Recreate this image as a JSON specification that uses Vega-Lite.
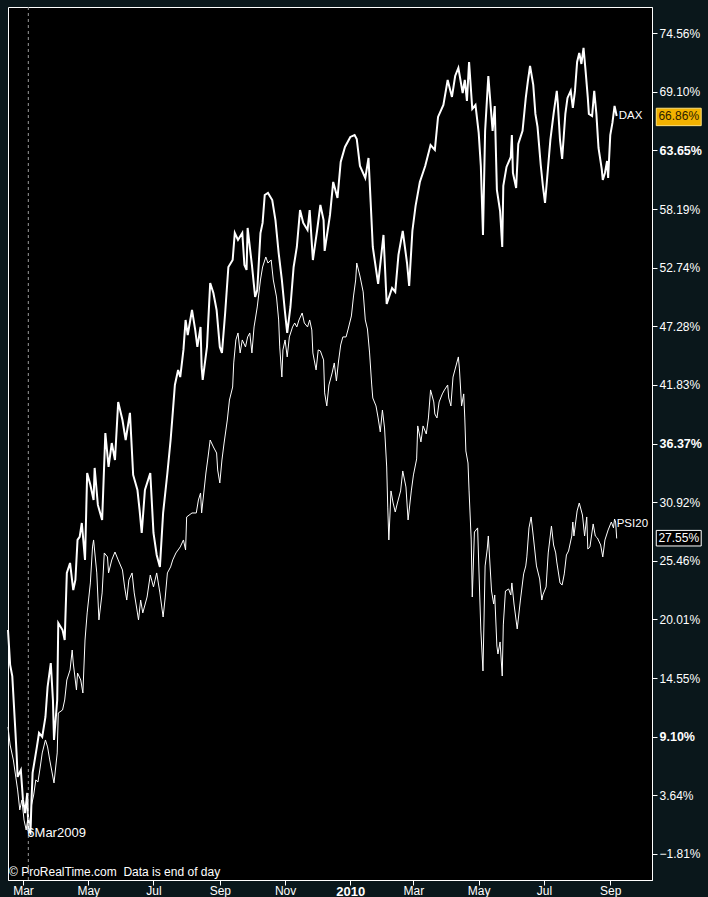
{
"$schema":"https://vega.github.io/schema/vega-lite/v6.json",
"width":644,"height":873,
"autosize":{"type":"none"},
"padding":{"left":8,"top":7,"right":56,"bottom":17},
"background":"#0a171b",
"config":{"view":{"fill":"#000000","stroke":"#ffffff","strokeWidth":1},"font":"Liberation Sans",
"axis":{"grid":false,"domainColor":"#ffffff","tickColor":"#ffffff","labelColor":"#ffffff","labelFont":"Liberation Sans","labelFontSize":12,"tickSize":5}},
"data":{"values":[{}]},
"datasets":{
"dax":[{"date":"2009-02-15","pct":19.03},{"date":"2009-02-17","pct":15.78},{"date":"2009-02-19","pct":14.75},{"date":"2009-02-22","pct":9.45},{"date":"2009-02-23","pct":7.59},{"date":"2009-02-24","pct":5.36},{"date":"2009-02-27","pct":6.0},{"date":"2009-03-01","pct":3.22},{"date":"2009-03-03","pct":2.0},{"date":"2009-03-05","pct":3.87},{"date":"2009-03-06","pct":0.42},{"date":"2009-03-08","pct":0.14},{"date":"2009-03-09","pct":3.22},{"date":"2009-03-10","pct":5.73},{"date":"2009-03-14","pct":8.15},{"date":"2009-03-16","pct":9.45},{"date":"2009-03-19","pct":9.08},{"date":"2009-03-22","pct":10.94},{"date":"2009-03-24","pct":13.73},{"date":"2009-03-27","pct":15.96},{"date":"2009-03-29","pct":12.52},{"date":"2009-03-30","pct":8.8},{"date":"2009-04-02","pct":12.52},{"date":"2009-04-03","pct":19.69},{"date":"2009-04-07","pct":19.03},{"date":"2009-04-09","pct":18.1},{"date":"2009-04-11","pct":24.34},{"date":"2009-04-14","pct":25.27},{"date":"2009-04-17","pct":22.75},{"date":"2009-04-19","pct":23.69},{"date":"2009-04-21","pct":27.41},{"date":"2009-04-23","pct":27.69},{"date":"2009-04-25","pct":28.99},{"date":"2009-04-28","pct":25.55},{"date":"2009-04-30","pct":33.64},{"date":"2009-05-03","pct":32.53},{"date":"2009-05-06","pct":31.13},{"date":"2009-05-07","pct":34.11},{"date":"2009-05-10","pct":30.67},{"date":"2009-05-14","pct":29.27},{"date":"2009-05-17","pct":37.36},{"date":"2009-05-20","pct":34.2},{"date":"2009-05-23","pct":36.43},{"date":"2009-05-26","pct":34.85},{"date":"2009-05-29","pct":40.25},{"date":"2009-06-02","pct":38.57},{"date":"2009-06-05","pct":36.71},{"date":"2009-06-09","pct":39.23},{"date":"2009-06-12","pct":33.46},{"date":"2009-06-16","pct":32.06},{"date":"2009-06-18","pct":30.2},{"date":"2009-06-20","pct":28.06},{"date":"2009-06-23","pct":32.06},{"date":"2009-06-28","pct":33.64},{"date":"2009-07-01","pct":28.06},{"date":"2009-07-04","pct":26.01},{"date":"2009-07-07","pct":24.9},{"date":"2009-07-10","pct":29.92},{"date":"2009-07-14","pct":33.64},{"date":"2009-07-17","pct":36.71},{"date":"2009-07-19","pct":39.23},{"date":"2009-07-21","pct":41.83},{"date":"2009-07-24","pct":43.23},{"date":"2009-07-26","pct":42.57},{"date":"2009-07-29","pct":45.09},{"date":"2009-07-31","pct":47.88},{"date":"2009-08-02","pct":46.48},{"date":"2009-08-06","pct":48.81},{"date":"2009-08-09","pct":46.95},{"date":"2009-08-11","pct":45.37},{"date":"2009-08-14","pct":47.23},{"date":"2009-08-15","pct":43.51},{"date":"2009-08-16","pct":42.3},{"date":"2009-08-20","pct":45.37},{"date":"2009-08-23","pct":51.32},{"date":"2009-08-26","pct":50.39},{"date":"2009-08-29","pct":48.81},{"date":"2009-09-01","pct":45.37},{"date":"2009-09-03","pct":44.81},{"date":"2009-09-06","pct":48.53},{"date":"2009-09-09","pct":52.81},{"date":"2009-09-13","pct":53.46},{"date":"2009-09-15","pct":55.97},{"date":"2009-09-18","pct":55.32},{"date":"2009-09-22","pct":55.97},{"date":"2009-09-24","pct":53.0},{"date":"2009-09-26","pct":52.53},{"date":"2009-09-27","pct":56.44},{"date":"2009-10-01","pct":53.0},{"date":"2009-10-04","pct":50.02},{"date":"2009-10-06","pct":50.67},{"date":"2009-10-09","pct":55.97},{"date":"2009-10-11","pct":56.91},{"date":"2009-10-13","pct":59.51},{"date":"2009-10-16","pct":59.7},{"date":"2009-10-20","pct":59.04},{"date":"2009-10-23","pct":57.18},{"date":"2009-10-26","pct":54.11},{"date":"2009-10-29","pct":51.6},{"date":"2009-11-01","pct":48.53},{"date":"2009-11-03","pct":46.67},{"date":"2009-11-06","pct":49.09},{"date":"2009-11-09","pct":52.81},{"date":"2009-11-12","pct":54.67},{"date":"2009-11-15","pct":58.11},{"date":"2009-11-18","pct":56.91},{"date":"2009-11-22","pct":56.25},{"date":"2009-11-24","pct":58.11},{"date":"2009-11-27","pct":53.46},{"date":"2009-12-01","pct":56.25},{"date":"2009-12-04","pct":58.58},{"date":"2009-12-07","pct":57.18},{"date":"2009-12-08","pct":54.3},{"date":"2009-12-13","pct":57.65},{"date":"2009-12-16","pct":60.72},{"date":"2009-12-20","pct":59.23},{"date":"2009-12-23","pct":62.58},{"date":"2009-12-27","pct":63.98},{"date":"2010-01-01","pct":64.91},{"date":"2010-01-05","pct":65.09},{"date":"2010-01-07","pct":64.72},{"date":"2010-01-10","pct":62.21},{"date":"2010-01-15","pct":61.09},{"date":"2010-01-18","pct":62.95},{"date":"2010-01-20","pct":58.86},{"date":"2010-01-22","pct":54.67},{"date":"2010-01-27","pct":51.23},{"date":"2010-02-01","pct":55.79},{"date":"2010-02-04","pct":49.37},{"date":"2010-02-09","pct":50.86},{"date":"2010-02-12","pct":50.49},{"date":"2010-02-15","pct":53.93},{"date":"2010-02-19","pct":56.16},{"date":"2010-02-23","pct":53.18},{"date":"2010-02-25","pct":51.04},{"date":"2010-02-28","pct":56.16},{"date":"2010-03-03","pct":58.49},{"date":"2010-03-07","pct":60.72},{"date":"2010-03-12","pct":62.21},{"date":"2010-03-17","pct":64.16},{"date":"2010-03-21","pct":63.7},{"date":"2010-03-24","pct":66.77},{"date":"2010-03-29","pct":67.88},{"date":"2010-04-02","pct":70.21},{"date":"2010-04-06","pct":68.63},{"date":"2010-04-09","pct":70.58},{"date":"2010-04-12","pct":71.33},{"date":"2010-04-16","pct":69.0},{"date":"2010-04-18","pct":70.21},{"date":"2010-04-20","pct":68.26},{"date":"2010-04-22","pct":71.88},{"date":"2010-04-25","pct":67.51},{"date":"2010-04-28","pct":67.88},{"date":"2010-05-01","pct":65.28},{"date":"2010-05-03","pct":62.21},{"date":"2010-05-05","pct":55.79},{"date":"2010-05-07","pct":65.47},{"date":"2010-05-10","pct":70.58},{"date":"2010-05-14","pct":65.47},{"date":"2010-05-16","pct":67.79},{"date":"2010-05-18","pct":59.98},{"date":"2010-05-21","pct":58.02},{"date":"2010-05-23","pct":54.67},{"date":"2010-05-24","pct":60.35},{"date":"2010-05-27","pct":62.12},{"date":"2010-05-31","pct":63.05},{"date":"2010-06-01","pct":65.09},{"date":"2010-06-02","pct":61.56},{"date":"2010-06-05","pct":60.16},{"date":"2010-06-07","pct":64.26},{"date":"2010-06-11","pct":65.47},{"date":"2010-06-14","pct":68.54},{"date":"2010-06-16","pct":70.12},{"date":"2010-06-18","pct":71.51},{"date":"2010-06-21","pct":69.75},{"date":"2010-06-23","pct":67.05},{"date":"2010-06-25","pct":65.84},{"date":"2010-06-28","pct":62.3},{"date":"2010-06-30","pct":60.35},{"date":"2010-07-02","pct":58.77},{"date":"2010-07-04","pct":61.09},{"date":"2010-07-07","pct":64.63},{"date":"2010-07-10","pct":67.05},{"date":"2010-07-13","pct":69.19},{"date":"2010-07-14","pct":67.98},{"date":"2010-07-16","pct":64.63},{"date":"2010-07-18","pct":62.86},{"date":"2010-07-21","pct":67.05},{"date":"2010-07-23","pct":68.54},{"date":"2010-07-26","pct":69.19},{"date":"2010-07-28","pct":67.61},{"date":"2010-07-30","pct":69.19},{"date":"2010-08-01","pct":71.88},{"date":"2010-08-03","pct":72.72},{"date":"2010-08-05","pct":71.7},{"date":"2010-08-07","pct":73.19},{"date":"2010-08-09","pct":70.96},{"date":"2010-08-11","pct":68.54},{"date":"2010-08-12","pct":67.05},{"date":"2010-08-15","pct":66.86},{"date":"2010-08-17","pct":69.19},{"date":"2010-08-19","pct":67.05},{"date":"2010-08-21","pct":63.88},{"date":"2010-08-24","pct":61.93},{"date":"2010-08-25","pct":60.91},{"date":"2010-08-27","pct":61.56},{"date":"2010-08-29","pct":62.67},{"date":"2010-08-30","pct":61.09},{"date":"2010-09-01","pct":65.09},{"date":"2010-09-03","pct":66.21},{"date":"2010-09-05","pct":67.79},{"date":"2010-09-07","pct":66.86}],
"psi":[{"date":"2009-02-15","pct":10.01},{"date":"2009-02-17","pct":8.33},{"date":"2009-02-20","pct":6.94},{"date":"2009-02-22","pct":5.54},{"date":"2009-02-24","pct":4.15},{"date":"2009-02-26","pct":2.29},{"date":"2009-02-28","pct":3.22},{"date":"2009-03-02","pct":1.35},{"date":"2009-03-04","pct":0.42},{"date":"2009-03-06","pct":1.82},{"date":"2009-03-08","pct":0.61},{"date":"2009-03-09","pct":2.75},{"date":"2009-03-11","pct":3.68},{"date":"2009-03-13","pct":5.08},{"date":"2009-03-15","pct":4.89},{"date":"2009-03-17","pct":6.19},{"date":"2009-03-19","pct":7.59},{"date":"2009-03-22","pct":8.8},{"date":"2009-03-24","pct":8.15},{"date":"2009-03-26","pct":6.94},{"date":"2009-03-30","pct":4.8},{"date":"2009-04-02","pct":7.59},{"date":"2009-04-03","pct":11.31},{"date":"2009-04-07","pct":11.59},{"date":"2009-04-09","pct":12.52},{"date":"2009-04-11","pct":14.38},{"date":"2009-04-14","pct":15.31},{"date":"2009-04-16","pct":17.17},{"date":"2009-04-17","pct":15.96},{"date":"2009-04-20","pct":13.45},{"date":"2009-04-21","pct":15.03},{"date":"2009-04-24","pct":14.38},{"date":"2009-04-26","pct":13.17},{"date":"2009-04-28","pct":18.1},{"date":"2009-04-30","pct":20.62},{"date":"2009-05-03","pct":23.41},{"date":"2009-05-05","pct":26.76},{"date":"2009-05-06","pct":27.41},{"date":"2009-05-09","pct":24.34},{"date":"2009-05-11","pct":19.97},{"date":"2009-05-14","pct":22.48},{"date":"2009-05-16","pct":26.2},{"date":"2009-05-19","pct":25.83},{"date":"2009-05-20","pct":24.34},{"date":"2009-05-23","pct":25.55},{"date":"2009-05-26","pct":26.29},{"date":"2009-05-29","pct":25.55},{"date":"2009-06-02","pct":24.62},{"date":"2009-06-04","pct":23.04},{"date":"2009-06-06","pct":21.82},{"date":"2009-06-08","pct":23.69},{"date":"2009-06-11","pct":24.34},{"date":"2009-06-13","pct":22.48},{"date":"2009-06-16","pct":20.62},{"date":"2009-06-17","pct":19.97},{"date":"2009-06-19","pct":21.82},{"date":"2009-06-21","pct":20.62},{"date":"2009-06-25","pct":22.1},{"date":"2009-06-28","pct":24.15},{"date":"2009-07-01","pct":23.04},{"date":"2009-07-04","pct":24.34},{"date":"2009-07-07","pct":22.48},{"date":"2009-07-10","pct":20.24},{"date":"2009-07-12","pct":22.1},{"date":"2009-07-14","pct":24.34},{"date":"2009-07-17","pct":24.9},{"date":"2009-07-19","pct":25.55},{"date":"2009-07-22","pct":26.2},{"date":"2009-07-26","pct":26.76},{"date":"2009-07-29","pct":27.41},{"date":"2009-07-31","pct":26.48},{"date":"2009-08-01","pct":29.55},{"date":"2009-08-06","pct":29.92},{"date":"2009-08-10","pct":29.92},{"date":"2009-08-12","pct":31.13},{"date":"2009-08-14","pct":31.78},{"date":"2009-08-15","pct":29.92},{"date":"2009-08-17","pct":31.78},{"date":"2009-08-19","pct":33.64},{"date":"2009-08-21","pct":35.13},{"date":"2009-08-23","pct":36.71},{"date":"2009-08-26","pct":36.06},{"date":"2009-08-29","pct":35.5},{"date":"2009-08-30","pct":33.92},{"date":"2009-09-01","pct":32.71},{"date":"2009-09-03","pct":34.85},{"date":"2009-09-05","pct":36.43},{"date":"2009-09-08","pct":38.57},{"date":"2009-09-10","pct":40.43},{"date":"2009-09-13","pct":41.64},{"date":"2009-09-14","pct":43.88},{"date":"2009-09-16","pct":46.02},{"date":"2009-09-18","pct":46.67},{"date":"2009-09-20","pct":44.81},{"date":"2009-09-22","pct":46.02},{"date":"2009-09-25","pct":45.37},{"date":"2009-09-27","pct":46.3},{"date":"2009-09-29","pct":46.67},{"date":"2009-10-01","pct":44.81},{"date":"2009-10-03","pct":47.23},{"date":"2009-10-06","pct":49.09},{"date":"2009-10-09","pct":51.6},{"date":"2009-10-11","pct":52.81},{"date":"2009-10-14","pct":53.74},{"date":"2009-10-16","pct":53.18},{"date":"2009-10-19","pct":53.46},{"date":"2009-10-21","pct":51.6},{"date":"2009-10-24","pct":50.02},{"date":"2009-10-26","pct":47.88},{"date":"2009-10-27","pct":45.37},{"date":"2009-10-29","pct":42.57},{"date":"2009-10-30","pct":45.09},{"date":"2009-11-01","pct":46.02},{"date":"2009-11-03","pct":44.44},{"date":"2009-11-05","pct":46.3},{"date":"2009-11-08","pct":47.23},{"date":"2009-11-10","pct":47.6},{"date":"2009-11-12","pct":47.23},{"date":"2009-11-14","pct":47.88},{"date":"2009-11-17","pct":48.53},{"date":"2009-11-19","pct":47.6},{"date":"2009-11-22","pct":47.23},{"date":"2009-11-24","pct":47.88},{"date":"2009-11-26","pct":46.95},{"date":"2009-11-27","pct":44.81},{"date":"2009-11-30","pct":43.23},{"date":"2009-12-02","pct":45.09},{"date":"2009-12-04","pct":45.0},{"date":"2009-12-07","pct":44.16},{"date":"2009-12-08","pct":41.09},{"date":"2009-12-10","pct":39.88},{"date":"2009-12-12","pct":41.83},{"date":"2009-12-15","pct":42.95},{"date":"2009-12-17","pct":43.88},{"date":"2009-12-19","pct":42.2},{"date":"2009-12-21","pct":44.06},{"date":"2009-12-23","pct":45.55},{"date":"2009-12-25","pct":46.3},{"date":"2009-12-28","pct":46.3},{"date":"2009-12-30","pct":47.04},{"date":"2010-01-02","pct":48.25},{"date":"2010-01-04","pct":50.11},{"date":"2010-01-06","pct":51.6},{"date":"2010-01-07","pct":53.18},{"date":"2010-01-10","pct":51.97},{"date":"2010-01-13","pct":50.49},{"date":"2010-01-15","pct":47.88},{"date":"2010-01-17","pct":47.04},{"date":"2010-01-19","pct":44.81},{"date":"2010-01-21","pct":41.83},{"date":"2010-01-22","pct":40.62},{"date":"2010-01-25","pct":39.88},{"date":"2010-01-27","pct":38.76},{"date":"2010-01-29","pct":37.46},{"date":"2010-01-31","pct":39.5},{"date":"2010-02-02","pct":37.83},{"date":"2010-02-04","pct":34.2},{"date":"2010-02-05","pct":30.39},{"date":"2010-02-06","pct":27.41},{"date":"2010-02-07","pct":29.64},{"date":"2010-02-08","pct":31.97},{"date":"2010-02-10","pct":30.85},{"date":"2010-02-12","pct":30.01},{"date":"2010-02-14","pct":30.85},{"date":"2010-02-17","pct":31.97},{"date":"2010-02-19","pct":33.83},{"date":"2010-02-22","pct":32.34},{"date":"2010-02-24","pct":29.27},{"date":"2010-02-27","pct":31.97},{"date":"2010-03-01","pct":33.46},{"date":"2010-03-04","pct":34.95},{"date":"2010-03-05","pct":38.02},{"date":"2010-03-08","pct":36.53},{"date":"2010-03-10","pct":38.02},{"date":"2010-03-13","pct":37.27},{"date":"2010-03-15","pct":38.76},{"date":"2010-03-17","pct":41.37},{"date":"2010-03-20","pct":40.25},{"date":"2010-03-21","pct":39.13},{"date":"2010-03-23","pct":38.76},{"date":"2010-03-25","pct":40.25},{"date":"2010-03-28","pct":41.0},{"date":"2010-03-30","pct":41.37},{"date":"2010-04-02","pct":41.83},{"date":"2010-04-03","pct":40.62},{"date":"2010-04-05","pct":39.88},{"date":"2010-04-07","pct":42.57},{"date":"2010-04-10","pct":43.69},{"date":"2010-04-12","pct":44.44},{"date":"2010-04-13","pct":43.32},{"date":"2010-04-15","pct":39.88},{"date":"2010-04-17","pct":41.0},{"date":"2010-04-18","pct":38.76},{"date":"2010-04-19","pct":35.69},{"date":"2010-04-21","pct":34.57},{"date":"2010-04-22","pct":31.97},{"date":"2010-04-24","pct":27.41},{"date":"2010-04-25","pct":22.1},{"date":"2010-04-27","pct":28.15},{"date":"2010-04-30","pct":28.53},{"date":"2010-05-02","pct":22.1},{"date":"2010-05-03","pct":19.03},{"date":"2010-05-05","pct":15.22},{"date":"2010-05-07","pct":24.99},{"date":"2010-05-09","pct":26.57},{"date":"2010-05-10","pct":27.78},{"date":"2010-05-13","pct":22.66},{"date":"2010-05-15","pct":21.45},{"date":"2010-05-16","pct":22.29},{"date":"2010-05-18","pct":17.54},{"date":"2010-05-19","pct":16.8},{"date":"2010-05-21","pct":17.92},{"date":"2010-05-23","pct":14.75},{"date":"2010-05-24","pct":19.5},{"date":"2010-05-26","pct":22.66},{"date":"2010-05-29","pct":22.85},{"date":"2010-05-31","pct":22.29},{"date":"2010-06-01","pct":23.41},{"date":"2010-06-03","pct":21.45},{"date":"2010-06-06","pct":19.13},{"date":"2010-06-09","pct":21.82},{"date":"2010-06-12","pct":24.25},{"date":"2010-06-14","pct":24.99},{"date":"2010-06-15","pct":25.83},{"date":"2010-06-17","pct":28.53},{"date":"2010-06-19","pct":29.55},{"date":"2010-06-21","pct":27.78},{"date":"2010-06-24","pct":24.99},{"date":"2010-06-27","pct":23.78},{"date":"2010-06-29","pct":21.82},{"date":"2010-06-30","pct":22.29},{"date":"2010-07-03","pct":23.04},{"date":"2010-07-05","pct":26.2},{"date":"2010-07-08","pct":28.71},{"date":"2010-07-10","pct":26.94},{"date":"2010-07-12","pct":26.2},{"date":"2010-07-13","pct":25.36},{"date":"2010-07-16","pct":23.41},{"date":"2010-07-18","pct":23.22},{"date":"2010-07-20","pct":24.25},{"date":"2010-07-22","pct":26.01},{"date":"2010-07-24","pct":26.38},{"date":"2010-07-27","pct":27.78},{"date":"2010-07-28","pct":29.08},{"date":"2010-07-29","pct":27.78},{"date":"2010-08-01","pct":30.11},{"date":"2010-08-03","pct":30.85},{"date":"2010-08-06","pct":29.73},{"date":"2010-08-08","pct":27.78},{"date":"2010-08-10","pct":29.55},{"date":"2010-08-11","pct":26.57},{"date":"2010-08-13","pct":26.76},{"date":"2010-08-16","pct":28.9},{"date":"2010-08-18","pct":27.78},{"date":"2010-08-20","pct":27.59},{"date":"2010-08-23","pct":26.94},{"date":"2010-08-25","pct":25.83},{"date":"2010-08-27","pct":27.41},{"date":"2010-08-30","pct":28.34},{"date":"2010-09-02","pct":29.08},{"date":"2010-09-04","pct":28.53},{"date":"2010-09-05","pct":29.36},{"date":"2010-09-06","pct":29.08},{"date":"2010-09-07","pct":27.55}]
},
"layer":[
{"data":{"name":"dax"},"mark":{"type":"line","color":"#ffffff","strokeWidth":2},
 "encoding":{
  "x":{"field":"date","type":"temporal","scale":{"type":"utc","domain":[{"year":2009,"month":2,"date":15,"utc":true},{"year":2010,"month":10,"date":10,"utc":true}]},
   "axis":{"title":null,"orient":"bottom","labelFlush":false,"labelOverlap":false,"labelPadding":0,
    "values":[{"year":2009,"month":3,"date":1,"utc":true},{"year":2009,"month":5,"date":1,"utc":true},{"year":2009,"month":7,"date":1,"utc":true},{"year":2009,"month":9,"date":1,"utc":true},{"year":2009,"month":11,"date":1,"utc":true},{"year":2010,"month":1,"date":1,"utc":true},{"year":2010,"month":3,"date":1,"utc":true},{"year":2010,"month":5,"date":1,"utc":true},{"year":2010,"month":7,"date":1,"utc":true},{"year":2010,"month":9,"date":1,"utc":true}],
    "labelExpr":"utcFormat(datum.value, utcmonth(datum.value) == 0 ? '%Y' : '%b')",
    "labelFontWeight":{"condition":{"test":"utcmonth(datum.value) == 0","value":"bold"},"value":"normal"},
    "labelFontSize":{"condition":{"test":"utcmonth(datum.value) == 0","value":13},"value":12}}},
  "y":{"field":"pct","type":"quantitative","scale":{"domain":[-4.23,77.0],"nice":false,"zero":false},
   "axis":{"title":null,"orient":"right","labelOverlap":false,"labelPadding":2,"labelBound":false,
    "values":[-1.81,0.915,3.64,6.37,9.1,11.825,14.55,17.28,20.01,22.735,25.46,28.19,30.92,33.645,36.37,39.1,41.83,44.555,47.28,50.01,52.74,55.465,58.19,60.92,63.65,66.375,69.1,71.83,74.56],
    "labelExpr":"round((datum.value + 1.81) / 2.7275) % 2 == 0 ? format(datum.value, '.2f') + '%' : ''",
    "labelFontWeight":{"condition":{"test":"datum.value == 9.1 || datum.value == 36.37 || datum.value == 63.65","value":"bold"},"value":"normal"},
    "labelFontSize":{"condition":{"test":"datum.value == 9.1 || datum.value == 36.37 || datum.value == 63.65","value":12.5},"value":12}}}}},
{"data":{"name":"psi"},"mark":{"type":"line","color":"#ffffff","strokeWidth":1},
 "encoding":{"x":{"field":"date","type":"temporal","axis":{"title":null}},"y":{"field":"pct","type":"quantitative","axis":{"title":null}}}},
{"mark":{"type":"rule","color":"#9a9a9a","strokeDash":[3,3],"strokeWidth":1},
 "encoding":{"x":{"datum":{"year":2009,"month":3,"date":6,"utc":true},"type":"temporal","axis":{"title":null}}}},
{"mark":{"type":"text","text":"6Mar2009","align":"left","baseline":"middle","dx":-1,"dy":-2,"color":"#ffffff","fontSize":13,"font":"Liberation Sans"},
 "encoding":{"x":{"datum":{"year":2009,"month":3,"date":6,"utc":true},"type":"temporal","axis":{"title":null}},"y":{"datum":0,"type":"quantitative","axis":{"title":null}}}},
{"mark":{"type":"text","text":"© ProRealTime.com\u00a0 Data is end of day","align":"left","baseline":"bottom","dx":1,"dy":-1,"color":"#ffffff","fontSize":12,"font":"Liberation Sans"},
 "encoding":{"x":{"datum":{"year":2009,"month":2,"date":15,"utc":true},"type":"temporal","axis":{"title":null}},"y":{"datum":-4.23,"type":"quantitative","axis":{"title":null}}}},
{"mark":{"type":"text","text":"DAX","align":"left","baseline":"middle","dx":2,"color":"#ffffff","fontSize":11.5,"font":"Liberation Sans"},
 "encoding":{"x":{"datum":{"year":2010,"month":9,"date":7,"utc":true},"type":"temporal","axis":{"title":null}},"y":{"datum":66.86,"type":"quantitative","axis":{"title":null}}}},
{"mark":{"type":"text","text":"PSI20","align":"left","baseline":"middle","dx":0,"dy":-14,"color":"#ffffff","fontSize":11.5,"font":"Liberation Sans"},
 "encoding":{"x":{"datum":{"year":2010,"month":9,"date":7,"utc":true},"type":"temporal","axis":{"title":null}},"y":{"datum":27.55,"type":"quantitative","axis":{"title":null}}}},
{"mark":{"type":"rect","fill":"#f2b200","stroke":"#ffe27a","strokeWidth":1},
 "encoding":{"x":{"datum":{"year":2010,"month":10,"date":14,"utc":true},"type":"temporal","axis":{"title":null}},"x2":{"datum":{"year":2010,"month":11,"date":25,"utc":true}},"y":{"datum":65.96,"type":"quantitative","axis":{"title":null}},"y2":{"datum":67.58}}},
{"mark":{"type":"text","text":"66.86%","align":"center","baseline":"middle","color":"#2b2000","fontSize":12,"font":"Liberation Sans"},
 "encoding":{"x":{"datum":{"year":2010,"month":11,"date":4,"utc":true},"type":"temporal","axis":{"title":null}},"y":{"datum":66.86,"type":"quantitative","axis":{"title":null}}}},
{"mark":{"type":"rect","fill":"#000000","stroke":"#ffffff","strokeWidth":1},
 "encoding":{"x":{"datum":{"year":2010,"month":10,"date":14,"utc":true},"type":"temporal","axis":{"title":null}},"x2":{"datum":{"year":2010,"month":11,"date":25,"utc":true}},"y":{"datum":26.85,"type":"quantitative","axis":{"title":null}},"y2":{"datum":28.3}}},
{"mark":{"type":"text","text":"27.55%","align":"center","baseline":"middle","color":"#ffffff","fontSize":12,"font":"Liberation Sans"},
 "encoding":{"x":{"datum":{"year":2010,"month":11,"date":4,"utc":true},"type":"temporal","axis":{"title":null}},"y":{"datum":27.55,"type":"quantitative","axis":{"title":null}}}}
]
}
